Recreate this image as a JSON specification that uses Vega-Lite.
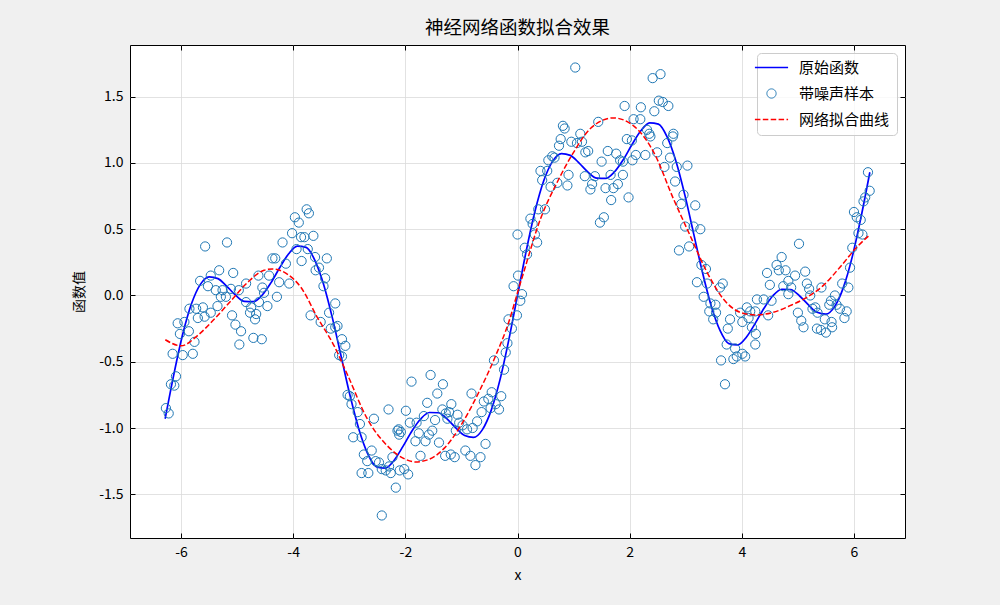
{
  "$schema": "https://vega.github.io/schema/vega-lite/v6.json",
  "width": 775,
  "height": 493,
  "autosize": "none",
  "padding": {"left": 130, "top": 45, "right": 95, "bottom": 67},
  "background": "#f0f0f0",
  "title": {"text": "神经网络函数拟合效果", "font": "Noto Sans CJK SC", "fontSize": 18.5, "fontWeight": "normal", "color": "#000000", "anchor": "middle", "offset": 7},
  "datasets": {
    "func": [
      {"x": -6.283, "y": -0.930}, {"x": -6.126, "y": -0.591}, {"x": -5.969, "y": -0.291}, {"x": -5.812, "y": -0.061},
      {"x": -5.655, "y": 0.084}, {"x": -5.498, "y": 0.141}, {"x": -5.341, "y": 0.127}, {"x": -5.184, "y": 0.069},
      {"x": -5.027, "y": 0.002}, {"x": -4.869, "y": -0.045}, {"x": -4.712, "y": -0.047}, {"x": -4.555, "y": 0.002},
      {"x": -4.398, "y": 0.095}, {"x": -4.241, "y": 0.209}, {"x": -4.084, "y": 0.313}, {"x": -3.927, "y": 0.373},
      {"x": -3.770, "y": 0.363}, {"x": -3.613, "y": 0.265}, {"x": -3.456, "y": 0.081}, {"x": -3.299, "y": -0.173},
      {"x": -3.142, "y": -0.465}, {"x": -2.985, "y": -0.757}, {"x": -2.827, "y": -1.011}, {"x": -2.670, "y": -1.195},
      {"x": -2.513, "y": -1.293}, {"x": -2.356, "y": -1.303}, {"x": -2.199, "y": -1.243}, {"x": -2.042, "y": -1.139},
      {"x": -1.885, "y": -1.024}, {"x": -1.728, "y": -0.932}, {"x": -1.571, "y": -0.883}, {"x": -1.414, "y": -0.885},
      {"x": -1.257, "y": -0.931}, {"x": -1.100, "y": -0.999}, {"x": -0.942, "y": -1.057}, {"x": -0.785, "y": -1.071},
      {"x": -0.628, "y": -1.014}, {"x": -0.471, "y": -0.869}, {"x": -0.314, "y": -0.639}, {"x": -0.157, "y": -0.339},
      {"x": 0, "y": 0},
      {"x": 0.157, "y": 0.339}, {"x": 0.314, "y": 0.639}, {"x": 0.471, "y": 0.869}, {"x": 0.628, "y": 1.014},
      {"x": 0.785, "y": 1.071}, {"x": 0.942, "y": 1.057}, {"x": 1.100, "y": 0.999}, {"x": 1.257, "y": 0.931},
      {"x": 1.414, "y": 0.885}, {"x": 1.571, "y": 0.883}, {"x": 1.728, "y": 0.932}, {"x": 1.885, "y": 1.024},
      {"x": 2.042, "y": 1.139}, {"x": 2.199, "y": 1.243}, {"x": 2.356, "y": 1.303}, {"x": 2.513, "y": 1.293},
      {"x": 2.670, "y": 1.195}, {"x": 2.827, "y": 1.011}, {"x": 2.985, "y": 0.757}, {"x": 3.142, "y": 0.465},
      {"x": 3.299, "y": 0.173}, {"x": 3.456, "y": -0.081}, {"x": 3.613, "y": -0.265}, {"x": 3.770, "y": -0.363},
      {"x": 3.927, "y": -0.373}, {"x": 4.084, "y": -0.313}, {"x": 4.241, "y": -0.209}, {"x": 4.398, "y": -0.095},
      {"x": 4.555, "y": -0.002}, {"x": 4.712, "y": 0.047}, {"x": 4.869, "y": 0.045}, {"x": 5.027, "y": -0.002},
      {"x": 5.184, "y": -0.069}, {"x": 5.341, "y": -0.127}, {"x": 5.498, "y": -0.141}, {"x": 5.655, "y": -0.084},
      {"x": 5.812, "y": 0.061}, {"x": 5.969, "y": 0.291}, {"x": 6.126, "y": 0.591}, {"x": 6.283, "y": 0.930}
    ],
    "noisy": [
      {"x": -5.57, "y": 0.37}, {"x": -5.18, "y": 0.40}, {"x": -5.07, "y": 0.17}, {"x": -5.32, "y": 0.19}, {"x": -5.47, "y": 0.15},
      {"x": -5.66, "y": 0.11}, {"x": -5.52, "y": 0.07}, {"x": -5.38, "y": 0.04}, {"x": -5.26, "y": 0.04}, {"x": -5.29, "y": -0.01},
      {"x": -5.20, "y": -0.01}, {"x": -5.11, "y": 0.05}, {"x": -4.97, "y": 0.04}, {"x": -4.84, "y": 0.09}, {"x": -4.84, "y": -0.05},
      {"x": -4.75, "y": -0.09}, {"x": -4.66, "y": -0.14}, {"x": -4.68, "y": -0.18}, {"x": -4.61, "y": -0.05}, {"x": -4.55, "y": 0.06},
      {"x": -4.62, "y": 0.15}, {"x": -4.43, "y": 0.15}, {"x": -4.52, "y": 0.02}, {"x": -4.46, "y": -0.08}, {"x": -4.29, "y": -0.01},
      {"x": -4.37, "y": 0.28}, {"x": -4.32, "y": 0.28}, {"x": -5.85, "y": -0.10}, {"x": -5.73, "y": -0.10}, {"x": -5.61, "y": -0.09},
      {"x": -5.70, "y": -0.17}, {"x": -5.58, "y": -0.16}, {"x": -5.47, "y": -0.13}, {"x": -5.35, "y": -0.08}, {"x": -5.09, "y": -0.15},
      {"x": -5.03, "y": -0.22}, {"x": -4.93, "y": -0.27}, {"x": -4.96, "y": -0.37}, {"x": -4.71, "y": -0.32}, {"x": -4.56, "y": -0.33},
      {"x": -6.06, "y": -0.21}, {"x": -5.94, "y": -0.20}, {"x": -6.02, "y": -0.29}, {"x": -5.86, "y": -0.27}, {"x": -5.76, "y": -0.35},
      {"x": -6.15, "y": -0.44}, {"x": -5.97, "y": -0.45}, {"x": -5.79, "y": -0.44}, {"x": -6.09, "y": -0.61}, {"x": -6.18, "y": -0.67},
      {"x": -6.12, "y": -0.68}, {"x": -6.27, "y": -0.85}, {"x": -6.22, "y": -0.89}, {"x": -4.77, "y": -0.13},
      {"x": -3.76, "y": 0.65}, {"x": -3.72, "y": 0.62}, {"x": -3.97, "y": 0.59}, {"x": -3.90, "y": 0.55}, {"x": -4.02, "y": 0.47},
      {"x": -4.19, "y": 0.40}, {"x": -3.86, "y": 0.44}, {"x": -3.80, "y": 0.44}, {"x": -3.64, "y": 0.45}, {"x": -3.94, "y": 0.35},
      {"x": -3.74, "y": 0.35}, {"x": -3.85, "y": 0.26}, {"x": -3.61, "y": 0.29}, {"x": -3.40, "y": 0.28}, {"x": -3.60, "y": 0.19},
      {"x": -3.54, "y": 0.21}, {"x": -3.43, "y": 0.13}, {"x": -3.46, "y": 0.07}, {"x": -4.13, "y": 0.24}, {"x": -4.25, "y": 0.10},
      {"x": -4.07, "y": 0.09}, {"x": -3.25, "y": -0.06}, {"x": -3.69, "y": -0.15}, {"x": -3.51, "y": -0.20}, {"x": -3.36, "y": -0.13},
      {"x": -3.33, "y": -0.25}, {"x": -3.25, "y": -0.24}, {"x": -3.21, "y": -0.23}, {"x": -3.13, "y": -0.33}, {"x": -3.07, "y": -0.38},
      {"x": -3.18, "y": -0.45}, {"x": -3.13, "y": -0.46}, {"x": -3.03, "y": -0.75}, {"x": -2.99, "y": -0.76}, {"x": -2.96, "y": -0.82},
      {"x": -2.85, "y": -0.88}, {"x": -2.81, "y": -0.97}, {"x": -2.93, "y": -1.07}, {"x": -2.78, "y": -1.07}, {"x": -2.56, "y": -0.93},
      {"x": -2.30, "y": -0.86}, {"x": -2.74, "y": -1.20}, {"x": -2.68, "y": -1.25}, {"x": -2.60, "y": -1.17}, {"x": -2.78, "y": -1.34},
      {"x": -2.66, "y": -1.34}, {"x": -2.53, "y": -1.25}, {"x": -2.47, "y": -1.26}, {"x": -2.42, "y": -1.31}, {"x": -2.35, "y": -1.32},
      {"x": -2.29, "y": -1.29}, {"x": -2.23, "y": -1.22}, {"x": -2.26, "y": -1.34}, {"x": -2.17, "y": -1.45}, {"x": -2.42, "y": -1.66},
      {"x": -2.14, "y": -1.02}, {"x": -2.11, "y": -1.05}, {"x": -2.10, "y": -1.32},
      {"x": 0.00, "y": 0.46}, {"x": 0.01, "y": 0.15}, {"x": -0.07, "y": 0.07}, {"x": -0.16, "y": -0.18}, {"x": -0.10, "y": -0.25},
      {"x": -0.18, "y": -0.36}, {"x": -0.21, "y": -0.43}, {"x": -0.42, "y": -0.49}, {"x": -0.24, "y": -0.56}, {"x": -0.29, "y": -0.76},
      {"x": -0.46, "y": -0.73}, {"x": -0.60, "y": -0.80}, {"x": -0.52, "y": -0.78}, {"x": -0.39, "y": -0.82}, {"x": -0.33, "y": -0.86},
      {"x": -0.48, "y": -0.85}, {"x": -0.64, "y": -0.88}, {"x": -0.82, "y": -0.74}, {"x": -0.72, "y": -0.95}, {"x": -0.57, "y": -1.12},
      {"x": -0.66, "y": -1.22}, {"x": -0.75, "y": -1.28}, {"x": -0.84, "y": -1.21}, {"x": -0.93, "y": -1.17}, {"x": -0.80, "y": -1.00},
      {"x": -0.90, "y": -1.01}, {"x": -0.98, "y": -0.98}, {"x": -1.04, "y": -0.96}, {"x": -1.10, "y": -1.02}, {"x": -1.07, "y": -0.90},
      {"x": -1.18, "y": -0.82}, {"x": -1.22, "y": -0.88}, {"x": -1.28, "y": -0.89}, {"x": -1.34, "y": -0.86}, {"x": -1.25, "y": -0.93},
      {"x": -1.19, "y": -1.20}, {"x": -1.12, "y": -1.22}, {"x": -1.29, "y": -1.21}, {"x": -1.33, "y": -0.67}, {"x": -1.43, "y": -0.74},
      {"x": -1.55, "y": -0.60}, {"x": -1.89, "y": -0.65}, {"x": -1.61, "y": -0.81}, {"x": -1.47, "y": -0.94}, {"x": -1.40, "y": -1.11},
      {"x": -1.52, "y": -1.02}, {"x": -1.58, "y": -1.05}, {"x": -1.67, "y": -0.91}, {"x": -1.80, "y": -0.96}, {"x": -1.92, "y": -0.96},
      {"x": -1.99, "y": -0.87}, {"x": -1.76, "y": -1.04}, {"x": -1.82, "y": -1.10}, {"x": -1.64, "y": -1.10}, {"x": -1.73, "y": -1.21},
      {"x": -2.08, "y": -1.03}, {"x": -2.12, "y": -1.01}, {"x": -2.02, "y": -1.31}, {"x": -1.95, "y": -1.35},
      {"x": 1.03, "y": 1.72}, {"x": 1.91, "y": 1.43}, {"x": 2.20, "y": 1.42}, {"x": 2.07, "y": 1.33}, {"x": 1.44, "y": 1.31},
      {"x": 0.81, "y": 1.28}, {"x": 0.84, "y": 1.26}, {"x": 1.12, "y": 1.22}, {"x": 0.96, "y": 1.16}, {"x": 0.77, "y": 1.18},
      {"x": 0.74, "y": 1.13}, {"x": 1.06, "y": 1.15}, {"x": 1.15, "y": 1.16}, {"x": 1.21, "y": 1.08}, {"x": 1.26, "y": 1.09},
      {"x": 0.62, "y": 1.05}, {"x": 0.55, "y": 1.02}, {"x": 0.66, "y": 1.04}, {"x": 0.41, "y": 0.94}, {"x": 0.53, "y": 0.94},
      {"x": 0.44, "y": 0.87}, {"x": 0.59, "y": 0.82}, {"x": 0.71, "y": 0.85}, {"x": 0.89, "y": 0.83}, {"x": 0.91, "y": 0.91},
      {"x": 1.61, "y": 1.09}, {"x": 1.76, "y": 1.07}, {"x": 1.83, "y": 1.02}, {"x": 1.88, "y": 1.01}, {"x": 1.95, "y": 1.18},
      {"x": 2.04, "y": 1.17}, {"x": 2.05, "y": 1.02}, {"x": 2.11, "y": 1.06}, {"x": 1.50, "y": 1.01}, {"x": 1.20, "y": 0.90},
      {"x": 1.38, "y": 0.90}, {"x": 1.33, "y": 0.84}, {"x": 1.30, "y": 0.80}, {"x": 1.66, "y": 0.91}, {"x": 1.88, "y": 0.91},
      {"x": 1.79, "y": 0.84}, {"x": 1.57, "y": 0.81}, {"x": 1.71, "y": 0.81}, {"x": 1.67, "y": 0.72}, {"x": 1.98, "y": 0.74},
      {"x": 1.54, "y": 0.59}, {"x": 1.47, "y": 0.55}, {"x": 0.37, "y": 0.65}, {"x": 0.49, "y": 0.65}, {"x": 0.23, "y": 0.58},
      {"x": 0.27, "y": 0.54}, {"x": 0.31, "y": 0.46}, {"x": 0.35, "y": 0.40}, {"x": 0.13, "y": 0.36}, {"x": 0.17, "y": 0.31},
      {"x": 0.08, "y": 0.01}, {"x": 0.05, "y": -0.04}, {"x": -0.01, "y": -0.15},
      {"x": 2.41, "y": 1.64}, {"x": 2.55, "y": 1.67}, {"x": 2.52, "y": 1.47}, {"x": 2.59, "y": 1.46}, {"x": 2.69, "y": 1.43},
      {"x": 2.44, "y": 1.39}, {"x": 2.19, "y": 1.33}, {"x": 2.31, "y": 1.25}, {"x": 2.35, "y": 1.22}, {"x": 2.37, "y": 1.20},
      {"x": 2.78, "y": 1.22}, {"x": 2.77, "y": 1.20}, {"x": 2.67, "y": 1.15}, {"x": 2.49, "y": 1.08}, {"x": 2.28, "y": 1.06},
      {"x": 2.72, "y": 1.04}, {"x": 2.62, "y": 0.97}, {"x": 2.84, "y": 0.97}, {"x": 3.03, "y": 0.98}, {"x": 2.81, "y": 0.86},
      {"x": 2.96, "y": 0.76}, {"x": 2.92, "y": 0.69}, {"x": 3.17, "y": 0.68}, {"x": 2.99, "y": 0.52}, {"x": 3.14, "y": 0.52},
      {"x": 3.26, "y": 0.50}, {"x": 2.88, "y": 0.34}, {"x": 3.06, "y": 0.37}, {"x": 3.28, "y": 0.23}, {"x": 3.36, "y": 0.20},
      {"x": 3.20, "y": 0.10}, {"x": 3.38, "y": 0.09}, {"x": 3.66, "y": 0.09}, {"x": 3.61, "y": 0.06}, {"x": 3.32, "y": -0.01},
      {"x": 3.44, "y": -0.06}, {"x": 3.53, "y": -0.07}, {"x": 3.42, "y": -0.12}, {"x": 3.54, "y": -0.13}, {"x": 3.49, "y": -0.18},
      {"x": 3.79, "y": -0.18}, {"x": 3.75, "y": -0.25}, {"x": 3.73, "y": -0.37}, {"x": 3.88, "y": -0.40}, {"x": 3.97, "y": -0.13},
      {"x": 4.01, "y": -0.20}, {"x": 4.12, "y": -0.17}, {"x": 4.15, "y": -0.12}, {"x": 4.09, "y": -0.09}, {"x": 4.27, "y": -0.03},
      {"x": 4.24, "y": -0.12}, {"x": 4.25, "y": -0.29}, {"x": 4.18, "y": -0.24}, {"x": 4.01, "y": -0.44}, {"x": 3.91, "y": -0.46},
      {"x": 3.85, "y": -0.48}, {"x": 3.63, "y": -0.49}, {"x": 3.70, "y": -0.67}, {"x": 4.06, "y": -0.46}, {"x": 4.24, "y": -0.37},
      {"x": 6.25, "y": 0.93}, {"x": 6.28, "y": 0.79}, {"x": 6.20, "y": 0.74}, {"x": 6.17, "y": 0.71}, {"x": 6.00, "y": 0.63},
      {"x": 6.05, "y": 0.59}, {"x": 6.12, "y": 0.57}, {"x": 6.08, "y": 0.47}, {"x": 6.15, "y": 0.46}, {"x": 5.97, "y": 0.36},
      {"x": 5.02, "y": 0.39}, {"x": 5.93, "y": 0.21}, {"x": 4.71, "y": 0.29}, {"x": 4.62, "y": 0.23}, {"x": 4.66, "y": 0.19},
      {"x": 4.78, "y": 0.19}, {"x": 4.45, "y": 0.17}, {"x": 5.13, "y": 0.18}, {"x": 4.95, "y": 0.15}, {"x": 4.83, "y": 0.11},
      {"x": 4.50, "y": 0.08}, {"x": 4.74, "y": 0.07}, {"x": 4.88, "y": 0.06}, {"x": 5.16, "y": 0.09}, {"x": 5.20, "y": 0.05},
      {"x": 5.42, "y": 0.06}, {"x": 5.79, "y": 0.09}, {"x": 5.90, "y": 0.06}, {"x": 4.83, "y": 0.01}, {"x": 5.22, "y": 0.00},
      {"x": 5.66, "y": 0.00}, {"x": 4.39, "y": -0.03}, {"x": 4.53, "y": -0.04}, {"x": 5.59, "y": -0.04}, {"x": 5.56, "y": -0.07},
      {"x": 5.69, "y": -0.07}, {"x": 5.31, "y": -0.09}, {"x": 5.26, "y": -0.10}, {"x": 5.75, "y": -0.10}, {"x": 5.87, "y": -0.12},
      {"x": 4.47, "y": -0.15}, {"x": 5.00, "y": -0.13}, {"x": 5.35, "y": -0.13}, {"x": 5.83, "y": -0.17}, {"x": 5.48, "y": -0.18},
      {"x": 5.06, "y": -0.19}, {"x": 5.60, "y": -0.20}, {"x": 5.10, "y": -0.24}, {"x": 5.61, "y": -0.24}, {"x": 5.34, "y": -0.25},
      {"x": 5.41, "y": -0.26}, {"x": 5.50, "y": -0.28}
    ],
    "fit": [
      {"x": -6.28, "y": -0.334}, {"x": -6.0, "y": -0.38}, {"x": -5.70, "y": -0.30}, {"x": -5.41, "y": -0.18},
      {"x": -5.11, "y": -0.04}, {"x": -4.81, "y": 0.10}, {"x": -4.52, "y": 0.19}, {"x": -4.37, "y": 0.20},
      {"x": -4.10, "y": 0.16}, {"x": -3.86, "y": 0.06}, {"x": -3.57, "y": -0.165}, {"x": -3.27, "y": -0.38},
      {"x": -3.03, "y": -0.60}, {"x": -2.68, "y": -0.93}, {"x": -2.32, "y": -1.135}, {"x": -2.05, "y": -1.225},
      {"x": -1.82, "y": -1.256}, {"x": -1.60, "y": -1.24}, {"x": -1.30, "y": -1.15}, {"x": -0.98, "y": -0.96},
      {"x": -0.69, "y": -0.73}, {"x": -0.39, "y": -0.455}, {"x": -0.155, "y": -0.20}, {"x": 0.02, "y": 0.05},
      {"x": 0.11, "y": 0.175}, {"x": 0.41, "y": 0.578}, {"x": 0.71, "y": 0.856}, {"x": 1.00, "y": 1.08},
      {"x": 1.30, "y": 1.26}, {"x": 1.71, "y": 1.34}, {"x": 2.07, "y": 1.28}, {"x": 2.43, "y": 1.08},
      {"x": 2.78, "y": 0.73}, {"x": 3.08, "y": 0.45}, {"x": 3.38, "y": 0.175}, {"x": 3.67, "y": -0.026},
      {"x": 3.97, "y": -0.127}, {"x": 4.24, "y": -0.147}, {"x": 4.56, "y": -0.127}, {"x": 4.86, "y": -0.077},
      {"x": 5.16, "y": -0.014}, {"x": 5.45, "y": 0.074}, {"x": 5.75, "y": 0.213}, {"x": 6.05, "y": 0.364},
      {"x": 6.28, "y": 0.457}
    ]
  },
  "config": {
    "view": {"fill": "white", "stroke": "#000000", "strokeWidth": 1},
    "axis": {
      "labelFont": "Noto Sans CJK SC", "labelFontSize": 14, "labelColor": "#000000",
      "titleFont": "Noto Sans CJK SC", "titleFontSize": 14, "titleColor": "#000000", "titleFontWeight": "normal",
      "tickColor": "#000000", "tickSize": -5, "tickWidth": 1, "labelPadding": 12,
      "domain": false, "gridColor": "#dadada", "gridWidth": 0.8, "labelFlush": false
    }
  },
  "resolve": {"axis": {"x": "independent", "y": "independent"}},
  "layer": [
    {
      "data": {"name": "func"},
      "mark": {"type": "line", "strokeWidth": 1.7, "interpolate": "monotone"},
      "encoding": {
        "x": {"field": "x", "type": "quantitative", "scale": {"domain": [-6.91, 6.91], "nice": false, "zero": false},
              "axis": {"values": [-6, -4, -2, 0, 2, 4, 6], "title": "x", "grid": true, "titlePadding": 9, "labelExpr": "replace(datum.label, '\u2212', '-')"}},
        "y": {"field": "y", "type": "quantitative", "scale": {"domain": [-1.83, 1.89], "nice": false, "zero": false},
              "axis": {"values": [-1.5, -1, -0.5, 0, 0.5, 1, 1.5], "format": ".1f", "title": "函数值", "grid": true, "titlePadding": 12, "labelExpr": "replace(datum.label, '\u2212', '-')"}},
        "color": {
          "datum": "原始函数",
          "scale": {"domain": ["原始函数", "带噪声样本", "网络拟合曲线"], "range": ["#0000ff", "#1f77b4", "#ff0000"]},
          "legend": {
            "title": null, "orient": "top-right", "offset": 8,
            "fillColor": "rgba(255,255,255,0.8)", "strokeColor": "#cccccc", "cornerRadius": 4, "padding": 7,
            "labelFont": "Noto Sans CJK SC", "labelFontSize": 15, "labelColor": "#000000",
            "symbolSize": 1100, "labelOffset": 20, "rowPadding": 10,
            "encode": {
              "symbols": {
                "update": {
                  "shape": {"signal": "datum.value === '带噪声样本' ? 'circle' : 'stroke'"},
                  "size": {"signal": "datum.value === '带噪声样本' ? 85 : 1100"},
                  "strokeDash": {"signal": "datum.value === '网络拟合曲线' ? [5.5, 2.4] : [1, 0]"},
                  "strokeWidth": {"signal": "datum.value === '带噪声样本' ? 1 : 1.6"},
                  "fill": {"value": "transparent"},
                  "stroke": {"signal": "scale('color', datum.value)"},
                  "opacity": {"value": 1}
                }
              }
            }
          }
        }
      }
    },
    {
      "data": {"name": "noisy"},
      "mark": {"type": "point", "filled": false, "size": 85, "strokeWidth": 1, "opacity": 1},
      "encoding": {
        "x": {"field": "x", "type": "quantitative", "axis": null},
        "y": {"field": "y", "type": "quantitative", "axis": null},
        "color": {"datum": "带噪声样本"}
      }
    },
    {
      "data": {"name": "fit"},
      "mark": {"type": "line", "strokeWidth": 1.5, "strokeDash": [5.5, 2.4], "interpolate": "monotone"},
      "encoding": {
        "x": {"field": "x", "type": "quantitative",
              "axis": {"orient": "top", "values": [-6, -4, -2, 0, 2, 4, 6], "labels": false, "title": null, "grid": false}},
        "y": {"field": "y", "type": "quantitative",
              "axis": {"orient": "right", "values": [-1.5, -1, -0.5, 0, 0.5, 1, 1.5], "labels": false, "title": null, "grid": false}},
        "color": {"datum": "网络拟合曲线"}
      }
    }
  ]
}
